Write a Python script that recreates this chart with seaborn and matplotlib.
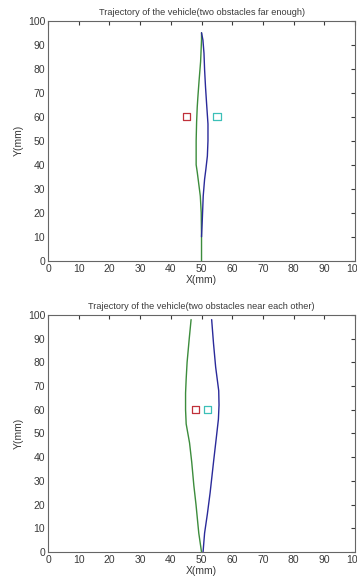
import numpy as np
import pandas as pd
import matplotlib
matplotlib.use("Agg")
import matplotlib.pyplot as plt
import seaborn as sns

# ---------- DATA ----------
# top panel: obstacles far enough
far_green_y = [0, 10, 20, 27, 31, 37, 40, 50, 58, 64, 68, 75, 83, 92, 95]
far_green_x = [50, 50, 49.9, 49.6, 49.2, 48.6, 48.25, 48.25, 48.4, 48.6, 48.8, 49.2, 49.7, 50, 50]
far_blue_y = [10, 15.5, 27, 34, 38, 43.6, 50, 57, 65.5, 72.4, 79.6, 86.5, 92, 95]
far_blue_x = [50, 50.2, 50.55, 51.0, 51.4, 51.9, 52.1, 52.1, 51.65, 51.3, 51.0, 50.8, 50.45, 50]
far_obst_x = [45, 55]
far_obst_y = [60, 60]

# bottom panel: obstacles near each other
near_green_y = [0, 8, 20, 28, 38, 46, 54, 60, 67, 73, 80, 90, 98]
near_green_x = [50, 49.1, 48.2, 47.5, 46.8, 46.1, 45.0, 44.8, 44.8, 45.0, 45.3, 46.0, 46.6]
near_blue_y = [0, 8, 16, 25, 32, 39, 48, 56, 62, 68, 78, 88, 98]
near_blue_x = [50.5, 51.0, 51.9, 52.8, 53.4, 54.0, 54.8, 55.5, 55.7, 55.6, 54.6, 53.9, 53.3]
near_obst_x = [48, 52]
near_obst_y = [60, 60]

ticks = list(range(0, 101, 10))
titles = ["Trajectory of the vehicle(two obstacles far enough)",
          "Trajectory of the vehicle(two obstacles near each other)"]

GREEN = "#3c8c3c"
BLUE = "#2a2a9a"
OBST_COLORS = ["#c0303a", "#3cc0b8"]
TXT = "#3a3a3a"


def draw_panel(ax, gx, gy, bx, by, ox, oy, title):
    sns.lineplot(x=gx, y=gy, sort=False, estimator=None, color=GREEN, lw=1.0, ax=ax)
    sns.lineplot(x=bx, y=by, sort=False, estimator=None, color=BLUE, lw=1.0, ax=ax)
    obst = pd.DataFrame({"x": ox, "y": oy, "k": ["a", "b"]})
    sns.scatterplot(data=obst, x="x", y="y", hue="k", palette=OBST_COLORS, marker="s",
                    s=28, linewidth=0.9, legend=False, ax=ax)
    # make the squares hollow
    coll = ax.collections[-1]
    coll.set_edgecolors(OBST_COLORS)
    coll.set_facecolors("none")
    ax.set_xlim(0, 100)
    ax.set_ylim(0, 100)
    ax.set_xticks(ticks)
    ax.set_yticks(ticks)
    ax.set_xlabel("X(mm)", fontsize=7.5, labelpad=1, color=TXT)
    ax.set_ylabel("Y(mm)", fontsize=7.5, labelpad=3, color=TXT)
    ax.set_title(title, fontsize=6.6, pad=4, color=TXT)
    ax.tick_params(direction="in", top=True, right=True, length=3, labelsize=7.5,
                   colors=TXT, pad=2)
    for s in ax.spines.values():
        s.set_color("#666666")
        s.set_linewidth(0.8)


sns.set_style("white")
plt.rcParams["font.family"] = ["Liberation Sans Narrow", "Liberation Sans", "DejaVu Sans"]

fig = plt.figure(figsize=(3.57, 5.77), dpi=100)
ax1 = fig.add_axes([0.1345, 0.548, 0.86, 0.416])
ax2 = fig.add_axes([0.1345, 0.0433, 0.86, 0.411])

draw_panel(ax1, far_green_x, far_green_y, far_blue_x, far_blue_y, far_obst_x, far_obst_y, titles[0])
draw_panel(ax2, near_green_x, near_green_y, near_blue_x, near_blue_y, near_obst_x, near_obst_y, titles[1])

fig.savefig("out.png", dpi=100)
